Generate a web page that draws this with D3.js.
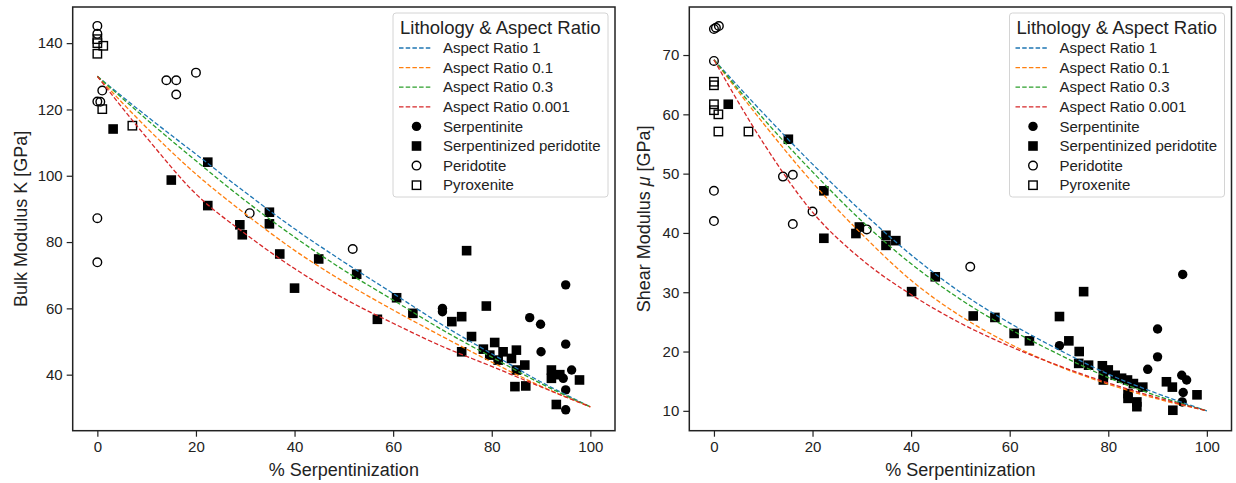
<!DOCTYPE html>
<html>
<head>
<meta charset="utf-8">
<script src="https://cdn.jsdelivr.net/npm/d3@7"></script>
<style>
body { margin: 0; background: #fff; }
text { font-family: "Liberation Sans", Arial, sans-serif; fill: #222; }
</style>
</head>
<body>
<svg id="chart"></svg>
<script>
// model curves, every 10 %
let serpX = [0, 10, 20, 30, 40, 50, 60, 70, 80, 90, 100]

let kAR1    = [130, 118, 106.5, 95, 84, 74, 64.5, 55, 46.3, 37.8, 30.3]
let kAR01   = [130, 114.5, 100.5, 88.5, 77.5, 68, 59.5, 51.5, 43.8, 36.5, 30.3]
let kAR03   = [130, 117, 104.5, 92.5, 81.5, 71.5, 62.5, 53.5, 45.3, 37.3, 30.3]
let kAR0001 = [130, 111.5, 94.5, 82.5, 72, 63, 55.5, 48.5, 42.5, 36.3, 30.3]

let muAR1    = [69.2, 60.2, 51.6, 43.6, 36.3, 30, 24.8, 20.3, 16.2, 12.9, 10]
let muAR01   = [69.2, 58.5, 48.5, 39.8, 32, 26, 21.3, 17.5, 14.5, 12, 10]
let muAR03   = [69.2, 59.3, 50.3, 42, 34.8, 28.8, 23.8, 19.5, 15.6, 12.5, 10]
let muAR0001 = [69.2, 55.2, 43.5, 35.5, 29.6, 24.8, 20.9, 17.6, 14.7, 12.2, 10]

let curveNames = ['Aspect Ratio 1', 'Aspect Ratio 0.1', 'Aspect Ratio 0.3', 'Aspect Ratio 0.001']
let curveColors = ['#1f77b4', '#ff7f0e', '#2ca02c', '#d62728']

// samples [% serpentinization, modulus]
let serpentiniteK = [[70,60],[70,59],[87.7,57.2],[89.9,55.2],[95,67.1],[95,49.2],[90,46.9],[96.2,41.4],[94.5,38.9],[95,35.4],[95,29.4]]
let serpPeridotiteK = [[3.2,114.1],[15,98.7],[22.4,104.1],[22.4,91],[28.9,85.2],[29.4,82.2],[34.9,89],[34.9,85.5],[37,76.4],[40,66.1],[44.9,74.9],[52.6,70.3],[56.8,56.7],[60.7,63.2],[64,58.5],[71.9,56],[73.9,57.5],[73.9,46.9],[74.9,77.4],[75.9,51.5],[78.9,60.7],[78.3,47.7],[80.6,49.7],[82.3,46.9],[85,47.4],[79.6,45.9],[81.3,44.4],[84,44.9],[86.7,42.9],[85,41.4],[84.7,36.4],[86.9,36.6],[92.1,41.4],[92.1,38.9],[93.8,40],[97.8,38.4],[93.1,31]]
let peridotiteK = [[0,145.2],[0,142.8],[0,122.4],[0.6,122.3],[1,125.7],[0,87.2],[0,73.9],[14,128.8],[16,128.8],[16,124.5],[20,131.1],[30.9,88.7],[51.8,77.9]]
let pyroxeniteK = [[0,141.2],[0,140],[1.2,139.2],[0,136.8],[1,120.1],[7.1,115.1]]

let serpentiniteMu = [[70.1,21],[88,17],[90,23.8],[90,19.1],[95.1,33],[94.9,16],[95.9,15.2],[95.2,13.1],[95,11.5]]
let serpPeridotiteMu = [[2.9,61.7],[15.1,55.8],[22.3,47.1],[22.3,39.1],[28.8,39.9],[29.5,41],[34.9,39.6],[34.9,37.9],[36.9,38.7],[40.1,30.1],[44.9,32.6],[52.6,26],[57,25.75],[60.9,23.05],[64,21.8],[70.1,25.9],[72,21.8],[74.1,20],[74,18],[76,17.7],[75,30.1],[78.8,17.6],[80,16.9],[79,16],[79,15.2],[81.4,16],[82.7,15.5],[83.9,15.2],[85.1,14.6],[87,14],[84,12.9],[84,12.1],[85.8,11.5],[85.8,10.7],[91.8,14.9],[93,14],[98,12.7],[93.1,10.1]]
let peridotiteMu = [[0,74.4],[0.4,74.6],[1,74.9],[0,69],[0,47.1],[0,42],[14,49.5],[16,49.8],[16,41.5],[20,43.6],[31,40.6],[52,34.3]]
let pyroxeniteMu = [[0,65.5],[0,64.9],[0,61.7],[0,60.7],[0.9,60],[0.9,57.1],[7,57.1]]

let litho = ['Serpentinite', 'Serpentinized peridotite', 'Peridotite', 'Pyroxenite']

let xTicks = [0, 20, 40, 60, 80, 100]
let kTicks = [40, 60, 80, 100, 120, 140]
let muTicks = [10, 20, 30, 40, 50, 60, 70]

let width = 1236
let height = 483
let plotTop = 7
let plotBottom = 430.7

let svg = d3.select('#chart')
    .attr('width', width)
    .attr('height', height)

let panels = [
    {left: 72.7, right: 615, yDomain: [23.1, 150.9], ticks: kTicks, labelX: 20.5, label: 'Bulk Modulus K [GPa]', sym: null,
     curves: [kAR1, kAR01, kAR03, kAR0001],
     sets: [serpentiniteK, serpPeridotiteK, peridotiteK, pyroxeniteK]},
    {left: 689.3, right: 1231.5, yDomain: [6.65, 78.1], ticks: muTicks, labelX: 644, label: 'Shear Modulus ', sym: 'μ',
     curves: [muAR1, muAR01, muAR03, muAR0001],
     sets: [serpentiniteMu, serpPeridotiteMu, peridotiteMu, pyroxeniteMu]}
]

let drawMarker = (g, kind, cx, cy) => {
    if (kind == 0) {
        g.append('circle').attr('cx', cx).attr('cy', cy).attr('r', 4.7).attr('fill', '#000')
    } else if (kind == 1) {
        g.append('rect').attr('x', cx - 4.8).attr('y', cy - 4.8).attr('width', 9.6).attr('height', 9.6).attr('fill', '#000')
    } else if (kind == 2) {
        g.append('circle').attr('cx', cx).attr('cy', cy).attr('r', 4.3)
         .attr('fill', 'none').attr('stroke', '#000').attr('stroke-width', 1.4)
    } else {
        g.append('rect').attr('x', cx - 4.2).attr('y', cy - 4.2).attr('width', 8.4).attr('height', 8.4)
         .attr('fill', 'none').attr('stroke', '#000').attr('stroke-width', 1.4)
    }
}

panels.forEach((p) => {
    let xScale = d3.scaleLinear().domain([-5, 105]).range([p.left, p.right])
    let yScale = d3.scaleLinear().domain(p.yDomain).range([plotBottom, plotTop])

    let g = svg.append('g')

    // samples first, model lines drawn over them
    let pts = g.append('g')
    p.sets.forEach((set, k) => {
        set.forEach((d) => drawMarker(pts, k, xScale(d[0]), yScale(d[1])))
    })

    let line = d3.line()
        .x((d, i) => xScale(serpX[i]))
        .y((d) => yScale(d))
        .curve(d3.curveMonotoneX)

    p.curves.forEach((c, i) => {
        g.append('path')
         .attr('d', line(c))
         .attr('fill', 'none')
         .attr('stroke', curveColors[i])
         .attr('stroke-width', 1.3)
         .attr('stroke-dasharray', '4.5,2.2')
    })

    // axes
    let xAxis = d3.axisBottom(xScale).tickValues(xTicks).tickSize(6).tickPadding(5)
    let gx = g.append('g')
        .attr('transform', 'translate(0,' + plotBottom + ')')
        .call(xAxis)
    let yAxis = d3.axisLeft(yScale).tickValues(p.ticks).tickSize(6).tickPadding(4)
    let gy = g.append('g')
        .attr('transform', 'translate(' + p.left + ',0)')
        .call(yAxis)
    ;[gx, gy].forEach((a) => {
        a.select('.domain').remove()
        a.selectAll('line').attr('stroke', '#222').attr('stroke-width', 1.2)
        a.selectAll('text').style('font-size', '15px').attr('fill', '#222')
            .style('font-family', '"Liberation Sans", Arial, sans-serif')
    })

    g.append('rect')
     .attr('x', p.left).attr('y', plotTop)
     .attr('width', p.right - p.left).attr('height', plotBottom - plotTop)
     .attr('fill', 'none').attr('stroke', '#222').attr('stroke-width', 1.5)

    g.append('text')
     .attr('x', (p.left + p.right) / 2)
     .attr('y', 476)
     .attr('text-anchor', 'middle')
     .style('font-size', '18px')
     .text('% Serpentinization')

    let yl = g.append('text')
     .attr('transform', 'translate(' + (p.labelX + 6) + ',' + ((plotTop + plotBottom) / 2) + ') rotate(-90)')
     .attr('text-anchor', 'middle')
     .style('font-size', '18px')
     .text(p.label)
    if (p.sym) {
        yl.append('tspan').style('font-style', 'italic').text(p.sym)
        yl.append('tspan').text(' [GPa]')
    }

    // legend
    let lx = p.right - 222
    let ly = 13
    let lg = g.append('g').attr('transform', 'translate(' + lx + ',' + ly + ')')
    lg.append('rect')
      .attr('width', 215).attr('height', 184).attr('rx', 3)
      .attr('fill', '#fff').attr('fill-opacity', 0.85)
      .attr('stroke', '#d4d4d4').attr('stroke-width', 1)
    lg.append('text')
      .attr('x', 7).attr('y', 20.5)
      .style('font-size', '18.5px')
      .text('Lithology & Aspect Ratio')
    let rowY = (i) => 35 + i * 19.6
    curveNames.forEach((n, i) => {
        lg.append('line')
          .attr('x1', 6).attr('x2', 38).attr('y1', rowY(i)).attr('y2', rowY(i))
          .attr('stroke', curveColors[i]).attr('stroke-width', 1.3)
          .attr('stroke-dasharray', '4.5,2.2')
        lg.append('text')
          .attr('x', 50).attr('y', rowY(i)).attr('dy', '0.35em')
          .style('font-size', '15px')
          .text(n)
    })
    litho.forEach((n, k) => {
        let i = k + 4
        drawMarker(lg, k, 23.5, rowY(i))
        lg.append('text')
          .attr('x', 50).attr('y', rowY(i)).attr('dy', '0.35em')
          .style('font-size', '15px')
          .text(n)
    })
})
</script>
</body>
</html>
